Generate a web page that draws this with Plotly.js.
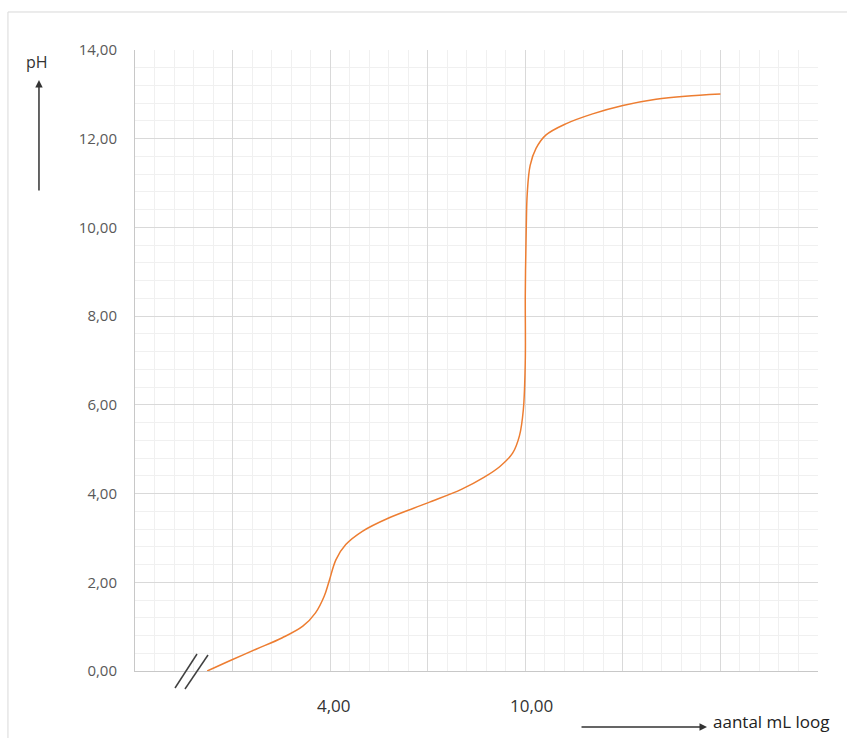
<!DOCTYPE html>
<html>
<head>
<meta charset="utf-8">
<script src="https://cdn.plot.ly/plotly-3.0.1.min.js"></script>
<style>
  html, body { margin: 0; padding: 0; background: #ffffff; }
  #chart { width: 847px; height: 738px; }
</style>
</head>
<body>
<div id="chart"></div>
<script>
// Titration curve: x in grid units (broken axis), y = pH
var volumeUnits = [0.74, 1.0, 1.24, 1.51, 1.72, 1.85, 1.94, 1.99, 2.06, 2.16, 2.33, 2.60, 3.0, 3.35, 3.58, 3.74, 3.87, 3.94, 3.98, 4.0, 4.0, 4.01, 4.02, 4.05, 4.11, 4.21, 4.42, 4.69, 5.0, 5.34, 5.64, 6.0];
var phValues    = [0.0, 0.26, 0.49, 0.75, 1.01, 1.31, 1.69, 2.03, 2.51, 2.85, 3.15, 3.45, 3.79, 4.10, 4.37, 4.61, 4.91, 5.30, 5.89, 7.0, 8.5, 10.0, 10.76, 11.40, 11.78, 12.08, 12.34, 12.56, 12.75, 12.89, 12.96, 13.01];

// x labels (placed at grid positions)
var xLabelPositions = [2, 4];
var xLabelTexts = ['4,00', '10,00'];

var yAxisLabel = 'pH';
var xAxisLabel = 'aantal mL loog';

var trace = {
  x: volumeUnits,
  y: phValues,
  type: 'scatter',
  mode: 'lines',
  line: { color: '#ED7D31', width: 1.5, shape: 'spline', smoothing: 1.0 },
  hoverinfo: 'skip',
  showlegend: false
};

var annotations = [];
for (var i = 0; i < xLabelPositions.length; i++) {
  annotations.push({
    x: xLabelPositions[i], xref: 'x',
    y: -0.0548, yref: 'paper',
    text: xLabelTexts[i], showarrow: false,
    xanchor: 'center', yanchor: 'middle',
    xshift: i === 0 ? 4 : 6,
    font: { family: 'Open Sans, sans-serif', size: 17, color: '#333333' }
  });
}
// pH label
annotations.push({
  x: -0.1428, y: 0.9807, xref: 'paper', yref: 'paper',
  text: yAxisLabel, showarrow: false, xanchor: 'center', yanchor: 'middle',
  font: { family: 'Open Sans, sans-serif', size: 16, color: '#333333' }
});
// vertical arrow
annotations.push({
  x: -0.1406, y: 0.9517, xref: 'paper', yref: 'paper',
  text: '', showarrow: true, ax: 0, ay: 112,
  arrowhead: 2, arrowsize: 1, arrowwidth: 1.5, arrowcolor: '#333333', standoff: 0
});
// x axis label
annotations.push({
  x: 0.844, y: -0.0821, xref: 'paper', yref: 'paper',
  text: xAxisLabel, showarrow: false, xanchor: 'left', yanchor: 'middle',
  font: { family: 'Open Sans, sans-serif', size: 17, color: '#222222' }
});
// horizontal arrow
annotations.push({
  x: 0.8375, y: -0.0902, xref: 'paper', yref: 'paper',
  text: '', showarrow: true, ax: -127, ay: 0,
  arrowhead: 2, arrowsize: 1, arrowwidth: 1.5, arrowcolor: '#333333', standoff: 0
});

var shapes = [
  { type: 'rect', xref: 'paper', yref: 'paper', x0: -0.186, x1: 1.3, y0: -0.4, y1: 1.0612,
    line: { color: '#d9d9d9', width: 1 }, layer: 'below' },
  { type: 'line', xref: 'paper', yref: 'paper', x0: 0.0586, y0: -0.0274, x1: 0.0908, y1: 0.0274,
    line: { color: '#404040', width: 1.5 } },
  { type: 'line', xref: 'paper', yref: 'paper', x0: 0.0732, y0: -0.029, x1: 0.1069, y1: 0.0258,
    line: { color: '#404040', width: 1.5 } }
];

var layout = {
  width: 847, height: 738,
  margin: { l: 135, r: 29, t: 50, b: 67, pad: 0 },
  paper_bgcolor: '#ffffff', plot_bgcolor: '#ffffff',
  separators: ',.',
  xaxis: {
    range: [0, 7], tickmode: 'linear', tick0: 0, dtick: 1,
    showticklabels: false, ticks: '',
    showgrid: true, gridcolor: '#d9d9d9', gridwidth: 1,
    minor: { tick0: 0, dtick: 0.2, showgrid: true, gridcolor: '#f0f0f0', gridwidth: 1 },
    zeroline: false, showline: true, linecolor: '#c8c8c8', linewidth: 1,
    fixedrange: true
  },
  yaxis: {
    range: [0, 14], tickmode: 'linear', tick0: 0, dtick: 2, tickformat: '.2f',
    showgrid: true, gridcolor: '#d9d9d9', gridwidth: 1,
    minor: { tick0: 0, dtick: 0.4, showgrid: true, gridcolor: '#f0f0f0', gridwidth: 1 },
    ticks: '', ticklabelstandoff: 14,
    tickfont: { family: 'Open Sans, sans-serif', size: 15, color: '#595959' },
    zeroline: false, showline: true, linecolor: '#c8c8c8', linewidth: 1,
    fixedrange: true
  },
  annotations: annotations,
  shapes: shapes
};

Plotly.newPlot('chart', [trace], layout, { displayModeBar: false, staticPlot: true });
</script>
</body>
</html>
